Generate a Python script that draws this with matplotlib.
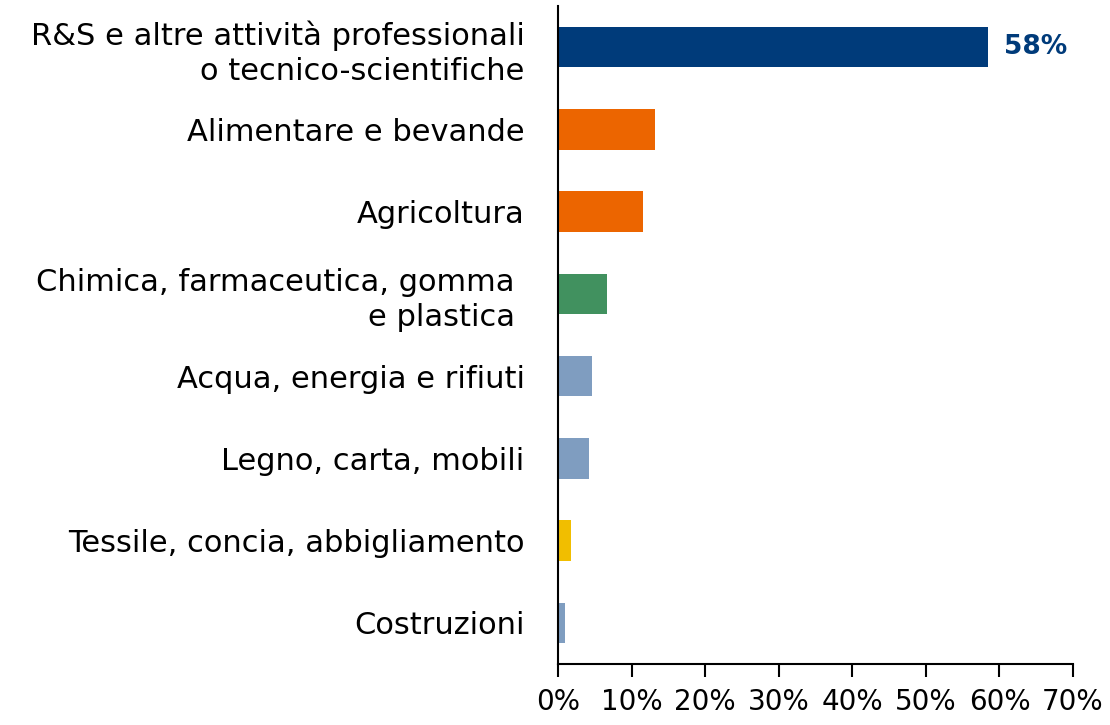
import matplotlib
matplotlib.use("Agg")
import matplotlib.pyplot as plt
from matplotlib.ticker import FuncFormatter, MultipleLocator

# dati (quota %)
settori = [
    "R&S e altre attività professionali\no tecnico-scientifiche",
    "Alimentare e bevande",
    "Agricoltura",
    "Chimica, farmaceutica, gomma \ne plastica ",
    "Acqua, energia e rifiuti",
    "Legno, carta, mobili",
    "Tessile, concia, abbigliamento",
    "Costruzioni",
]
quote = [58.5, 13.2, 11.5, 6.6, 4.6, 4.2, 1.7, 0.9]
colori = ["#003B7A", "#EC6500", "#EC6500", "#41915F",
          "#7F9DC0", "#7F9DC0", "#F1BE00", "#7F9DC0"]
etichetta_top = "58%"

plt.rcParams['font.family'] = ['DejaVu Sans']

fig = plt.figure(figsize=(11.1, 7.25), dpi=100)
ax = fig.add_axes([0.5027, 0.0841, 0.4640, 0.9076])

pos = list(range(len(settori)))
ax.barh(pos, quote, height=0.49, color=colori)
ax.set_ylim(len(settori) - 0.5, -0.5)
ax.set_xlim(0, 70)

ax.set_yticks(pos)
ax.set_yticklabels(settori, fontsize=22, linespacing=1.25)
ax.tick_params(axis='y', length=0, pad=24)
ax.xaxis.set_major_locator(MultipleLocator(10))
ax.xaxis.set_major_formatter(FuncFormatter(lambda v, p: f"{v:.0f}%"))
ax.tick_params(axis='x', direction='out', length=9, width=1.5, labelsize=20, pad=8)

for s in ['top', 'right']:
    ax.spines[s].set_visible(False)
for s in ['left', 'bottom']:
    ax.spines[s].set_linewidth(1.5)

# etichetta sulla barra principale
ax.text(quote[0] + 2.1, 0, etichetta_top, va='center', ha='left',
        fontsize=19, fontweight='bold', color=colori[0])

fig.savefig("out.png", dpi=100)
